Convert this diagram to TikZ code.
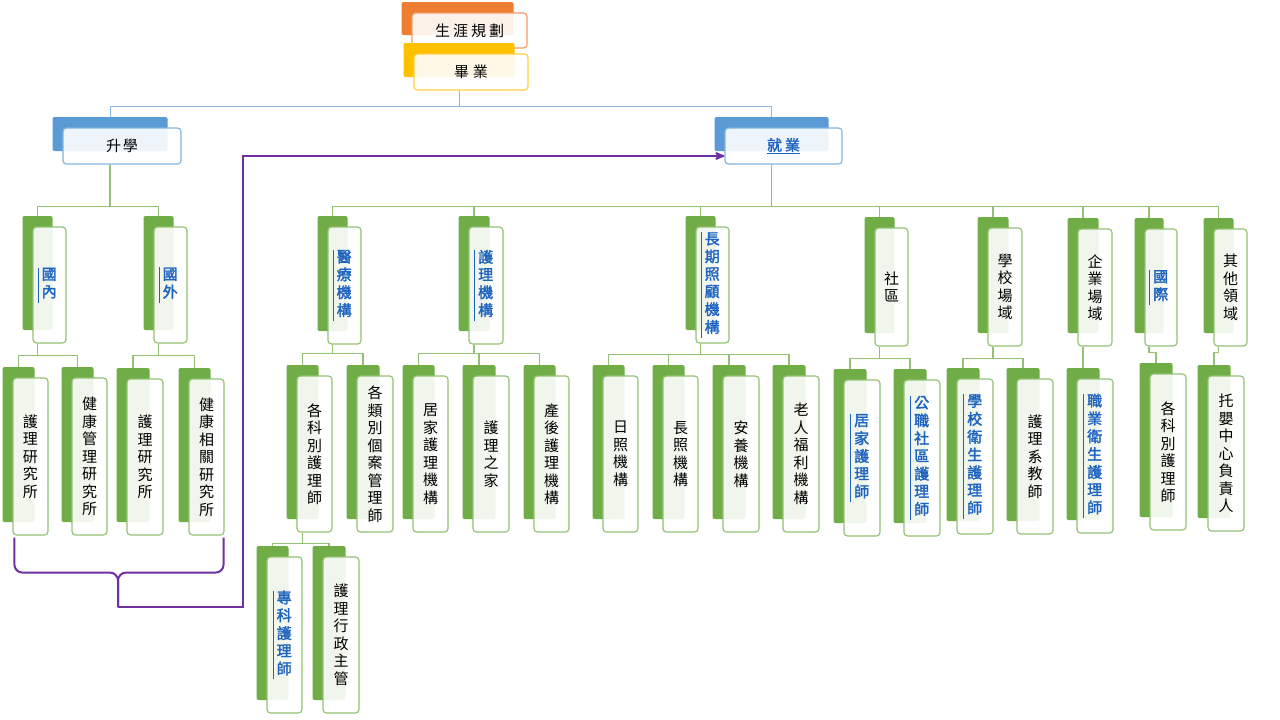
\documentclass[tikz,border=0pt]{standalone}
\usepackage{fontspec}
\setmainfont{Noto Sans CJK TC}[AutoFakeBold=2]
\usepackage{tikz}
\usetikzlibrary{arrows}

\definecolor{orangeback}{HTML}{ED7D31}
\definecolor{yellowback}{HTML}{FFC000}
\definecolor{blueback}{HTML}{5B9BD5}
\definecolor{greenback}{HTML}{70AD47}
\definecolor{linkblue}{HTML}{1E63C0}
\definecolor{jumppurple}{HTML}{7030A0}

\setlength{\arrayrulewidth}{0.8pt}
% blue entries: bold, with a rule on the left
\newcommand\hot[1]{\color{linkblue}\bfseries\begin{tabular}{|@{\hspace{3pt}}c@{\hspace{4pt}}}#1\end{tabular}}
\newcommand\hotrow[1]{\color{linkblue}\bfseries\underline{#1}}
% name, centre, colour, width, height, text
\newcommand\card[6]{%
  \node[cardback=#3,minimum width=#4-3,minimum height=#5-2,xshift=-12pt,yshift=12pt] (#1-b) at (#2) {};
  \node[cardfront=#3,minimum width=#4,minimum height=#5] (#1) at (#2) {#6};
}

\begin{document}
\begin{tikzpicture}[x=1pt,y=-1pt,>=stealth',
    cardback/.style={fill=#1,rounded corners=2pt,inner sep=0pt},
    cardfront/.style={draw=#1!75!white,line width=1.2pt,fill=white,fill opacity=0.9,text opacity=1,
      rounded corners=3.5pt,inner sep=0pt,align=center,font=\fontsize{15}{17.5}\selectfont},
    twig/.style={draw=greenback!75!white,line width=1.6pt},
    stem/.style={draw=blueback!70!white,line width=1pt},
    jump/.style={draw=jumppurple,line width=2pt}]
  \path[use as bounding box,fill=white] (0,0) rectangle (1280,720);

  \card{plan}{469.5,30.5}{orangeback}{115}{35}{生\kern3pt 涯\kern3pt 規\kern3pt 劃}
  \card{grad}{471,72}{yellowback}{114}{36}{畢\kern4pt 業}
  \card{study}{122,146}{blueback}{118}{36}{升\kern2pt 學}
  \card{work}{783.5,146}{blueback}{117}{36}{\hotrow{就\kern3pt 業}}

  % level 2
  \card{dom}{49.5,285}{greenback}{33}{116}{\hot{國\\內}}
  \card{abr}{170.5,285}{greenback}{33}{116}{\hot{國\\外}}
  \card{med}{344.5,285.5}{greenback}{33}{117}{\hot{醫\\療\\機\\構}}
  \card{nin}{486,285.5}{greenback}{34}{117}{\hot{護\\理\\機\\構}}
  \card{ltc}{712.5,285}{greenback}{33}{116}{\hot{長\\期\\照\\顧\\機\\構}}
  \card{com}{891.5,287}{greenback}{33}{118}{社\\區}
  \card{sch}{1005,287}{greenback}{34}{118}{學\\校\\場\\域}
  \card{ent}{1095,287.5}{greenback}{34}{117}{企\\業\\場\\域}
  \card{intl}{1161,287.5}{greenback}{32}{117}{\hot{國\\際}}
  \card{oth}{1230.5,287.5}{greenback}{33}{117}{其\\他\\領\\域}

  % level 3
  \card{d1}{30.5,456.5}{greenback}{35}{157}{護\\理\\研\\究\\所}
  \card{d2}{89.5,456.5}{greenback}{35}{157}{健\\康\\管\\理\\研\\究\\所}
  \card{a1}{145,457}{greenback}{36}{156}{護\\理\\研\\究\\所}
  \card{a2}{206.5,457}{greenback}{35}{156}{健\\康\\相\\關\\研\\究\\所}
  \card{m1}{314.5,454}{greenback}{35}{156}{各\\科\\別\\護\\理\\師}
  \card{m2}{375,454}{greenback}{36}{156}{各\\類\\別\\個\\案\\管\\理\\師}
  \card{n1}{430.5,454}{greenback}{35}{156}{居\\家\\護\\理\\機\\構}
  \card{n2}{491,454}{greenback}{36}{156}{護\\理\\之\\家}
  \card{n3}{551.5,454}{greenback}{35}{156}{產\\後\\護\\理\\機\\構}
  \card{l1}{620.5,454}{greenback}{35}{156}{日\\照\\機\\構}
  \card{l2}{680.5,454}{greenback}{35}{156}{長\\照\\機\\構}
  \card{l3}{741,454}{greenback}{36}{156}{安\\養\\機\\構}
  \card{l4}{801,454}{greenback}{36}{156}{老\\人\\福\\利\\機\\構}
  \card{c1}{862,458}{greenback}{36}{156}{\hot{居\\家\\護\\理\\師}}
  \card{c2}{922,458}{greenback}{36}{156}{\hot{公\\職\\社\\區\\護\\理\\師}}
  \card{s1}{975,456.5}{greenback}{36}{155}{\hot{學\\校\\衛\\生\\護\\理\\師}}
  \card{s2}{1035,456.5}{greenback}{36}{155}{護\\理\\系\\教\\師}
  \card{e1}{1095,456}{greenback}{36}{154}{\hot{職\\業\\衛\\生\\護\\理\\師}}
  \card{i1}{1168,452}{greenback}{36}{156}{各\\科\\別\\護\\理\\師}
  \card{o1}{1226,453.5}{greenback}{36}{155}{托\\嬰\\中\\心\\負\\責\\人}

  % level 4
  \card{p1}{284.5,635}{greenback}{35}{156}{\hot{專\\科\\護\\理\\師}}
  \card{p2}{341,635}{greenback}{36}{156}{護\\理\\行\\政\\主\\管}

  % connectors
  \foreach \c in {study,work}
    \draw[stem] (grad-b |- grad.south) -- ++(0,16) -| (\c-b.north);
  \foreach \c in {med,nin,ltc,com,sch,ent,intl,oth}
    \draw[twig] (work-b |- work.south) -- ++(0,42) -| (\c-b.north);
  \foreach \p/\d/\cs in {study/42/{dom,abr}, dom/12/{d1,d2}, abr/12/{a1,a2},
      med/9/{m1,m2}, nin/9/{n1,n2,n3}, ltc/11/{l1,l2,l3,l4}, com/12/{c1,c2},
      sch/12/{s1,s2}, ent/12/{e1}, intl/6/{i1}, oth/6/{o1}, m1/11/{p1,p2}}
    \foreach \c in \cs
      \draw[twig] (\p-b |- \p.south) -- ++(0,\d) -| (\c-b.north);

  % brace under the study cards, over to work
  \coordinate (tip) at (118,607);
  \draw[jump,rounded corners=8pt] ([shift={(2,2)}]d1.south west) -- ++(0,35) -| (tip);
  \draw[jump,rounded corners=8pt] ([shift={(-1,2)}]a2.south east) -- ++(0,35) -| (tip);
  \draw[jump,->] (tip) -- ++(125,0) |- ([yshift=-10pt]work.west);
\end{tikzpicture}
\end{document}
